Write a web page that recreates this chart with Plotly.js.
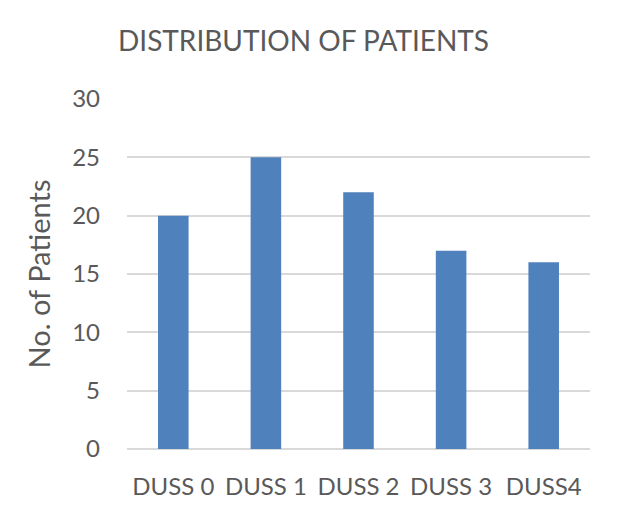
<!DOCTYPE html>
<html>
<head>
<meta charset="utf-8">
<script src="https://cdn.plot.ly/plotly-3.0.1.min.js"></script>
<style>html,body{margin:0;padding:0;background:#fff;}#chart{width:623px;height:522px;}</style>
</head>
<body>
<div id="chart"></div>
<script>
var categories = ["DUSS 0", "DUSS 1", "DUSS 2", "DUSS 3", "DUSS4"];
var patients = [20, 25, 22, 17, 16];
var yTicks = [0, 5, 10, 15, 20, 25, 30];

var font = "Lato, 'Open Sans', sans-serif";
var textColor = "#595959";

Plotly.newPlot("chart", [{
  type: "bar",
  x: categories,
  y: patients,
  marker: {color: "#4f81bd"},
  hoverinfo: "x+y"
}], {
  width: 623,
  height: 522,
  margin: {l: 127, r: 33, t: 99, b: 73},
  paper_bgcolor: "#ffffff",
  plot_bgcolor: "#ffffff",
  bargap: 0.67,
  showlegend: false,
  title: {
    text: "DISTRIBUTION OF PATIENTS",
    font: {family: font, size: 28, color: textColor},
    x: 118 / 623, xanchor: "left",
    y: 1 - 41 / 522, yanchor: "middle"
  },
  xaxis: {
    type: "category",
    showgrid: false,
    showline: false,
    zeroline: false,
    ticks: "",
    tickfont: {family: font, size: 24, color: textColor},
    ticklabelstandoff: 21
  },
  yaxis: {
    range: [0, 30],
    tickvals: yTicks,
    ticktext: yTicks.map(String),
    showgrid: true,
    gridcolor: "#d9d9d9",
    gridwidth: 2,
    zeroline: true,
    zerolinecolor: "#d9d9d9",
    zerolinewidth: 2,
    showline: false,
    ticks: "",
    tickfont: {family: font, size: 24, color: textColor},
    ticklabelstandoff: 26,
    title: {
      text: "No. of Patients",
      font: {family: font, size: 29, color: textColor},
      standoff: 13
    }
  }
}, {displayModeBar: false, staticPlot: true});
</script>
</body>
</html>
